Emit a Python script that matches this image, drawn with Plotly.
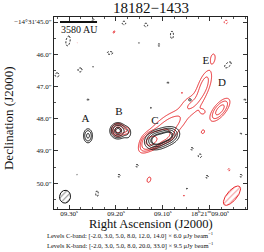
import numpy as np
import plotly.graph_objects as go

# ---------------- data ----------------
TITLE = "18182\u22121433"
C_LEVELS = [-2.0, 3.0, 5.0, 8.0, 12.0, 14.0]
K_LEVELS = [-2.0, 3.0, 5.0, 8.0, 20.0, 33.0]

# source-model components: RA (s), Dec ("), peak (sigma), major ("), minor ("), angle (deg)
c_ra   = [9.2596, 9.1957, 9.1745, 9.1127, 9.0893, 9.1000, 9.0425, 9.1255, 9.0489, 9.2830]
c_dec  = [48.529, 48.375, 48.437, 48.653, 48.529, 48.591, 47.415, 47.663, 50.170, 49.737]
c_peak = [9.0, 16.0, 4.0, 16.0, 13.0, 6.0, 4.0, 3.4, 3.4, 3.3]
c_maj  = [0.146, 0.139, 0.155, 0.170, 0.150, 0.400, 0.050, 0.031, 0.031, 0.025]
c_min  = [0.093, 0.139, 0.093, 0.130, 0.115, 0.220, 0.050, 0.031, 0.031, 0.025]
c_pa   = [90, 0, 90, 20, 20, 20, 0, 0, 0, 0]

cn_ra   = [9.3021, 9.2766, 9.2489, 9.3255, 9.2596, 9.2489, 9.1830, 9.2128, 9.1362, 9.0808, 9.1085, 9.1510,
           8.9617, 9.0893, 8.9255, 9.1936, 9.2404, 9.1553, 9.0383, 9.0212, 9.0063, 8.9340, 8.9340]
cn_dec  = [45.588, 46.486, 46.393, 46.641, 47.415, 44.938, 45.031, 45.960, 45.093, 45.402, 45.712, 45.650,
           46.331, 46.889, 47.415, 49.768, 50.325, 49.458, 48.932, 49.149, 49.799, 49.768, 48.468]
cn_peak = [-2.8, -2.7, -2.2, -2.7, -2.4, -2.5, -2.6, -2.6, -2.6, -2.7, -2.4, -2.2,
           -2.8, -2.4, -2.4, -2.5, -2.6, -2.5, -2.5, -2.6, -2.5, -2.5, -2.3]
cn_maj  = [0.186, 0.080, 0.030, 0.080, 0.045, 0.055, 0.075, 0.120, 0.075, 0.150, 0.060, 0.030,
           0.150, 0.045, 0.045, 0.060, 0.120, 0.060, 0.060, 0.075, 0.060, 0.060, 0.045]
cn_min  = [0.077, 0.080, 0.030, 0.080, 0.045, 0.055, 0.075, 0.060, 0.075, 0.060, 0.060, 0.030,
           0.075, 0.045, 0.045, 0.060, 0.055, 0.060, 0.060, 0.075, 0.060, 0.060, 0.045]
cn_pa   = [80, 0, 0, 0, 0, 0, 0, 0, 0, 90, 0, 0, 40, 0, 0, 0, 90, 0, 0, 0, 0, 0, 0]

k_ra   = [9.1957, 9.1766, 9.1255, 9.1000, 9.1106, 9.0745, 9.0425, 9.0127, 8.9936, 8.9787,
          9.0149, 9.0149, 9.1298, 9.0553, 9.2042, 9.0596, 8.9255, 9.3234, 9.1766, 9.2596, 9.2340, 9.2830,
          9.1362]
k_dec  = [48.344, 48.375, 48.684, 48.560, 48.437, 48.096, 47.570, 46.981, 46.115, 47.724,
          47.786, 48.406, 49.892, 50.387, 45.310, 47.198, 46.734, 49.551, 49.303, 50.759, 50.697, 45.650,
          48.839]
k_peak = [10.0, 4.0, 22.0, 8.0, 5.0, 4.8, 4.3, 6.5, 3.8, 10.0,
          3.6, 3.6, 3.8, 3.3, 3.4, 3.1, 3.1, 3.1, 3.1, 3.2, 3.2, 3.1,
          6.0]
k_maj  = [0.130, 0.090, 0.155, 0.217, 0.370, 0.320, 0.270, 0.400, 0.155, 0.280,
          0.077, 0.090, 0.124, 0.045, 0.077, 0.025, 0.025, 0.025, 0.025, 0.030, 0.030, 0.025,
          0.200]
k_min  = [0.130, 0.090, 0.124, 0.124, 0.217, 0.240, 0.210, 0.140, 0.077, 0.120,
          0.077, 0.070, 0.077, 0.030, 0.045, 0.025, 0.025, 0.025, 0.025, 0.030, 0.030, 0.025,
          0.120]
k_pa   = [0, 0, 30, 20, 45, 40, 55, 70, 80, 51, 0, 60, 70, 0, 60, 0, 0, 0, 0, 0, 0, 0, 45]

kn_ra   = [8.9659, 8.9595]
kn_dec  = [45.000, 49.582]
kn_peak = [-2.6, -2.4]
kn_maj  = [0.075, 0.055]
kn_min  = [0.075, 0.055]
kn_pa   = [0, 0]

# beams: RA, Dec, major ("), minor ("), angle (deg)
beam_c = [9.3085, 50.418, 0.40, 0.34, 80]
beam_k = [8.9530, 50.387, 0.74, 0.31, 50]

labels_txt = ["A", "B", "C", "D", "E"]
labels_ra  = [9.2649, 9.1936, 9.1170, 8.9744, 9.0085]
labels_dec = [48.019, 47.786, 48.065, 46.889, 46.207]

x_tickvals = [9.30, 9.20, 9.10, 9.00]
x_ticktext = ["09.30<sup>s</sup>", "09.20<sup>s</sup>", "09.10<sup>s</sup>",
              "18<sup>h</sup>21<sup>m</sup>09.00<sup>s</sup>"]
y_tickvals = [45, 46, 47, 48, 49, 50]
y_ticktext = ["\u221214\u00b031\u203245.0\u2033", "46.0\u2033", "47.0\u2033", "48.0\u2033",
              "49.0\u2033", "50.0\u2033"]

SCALE_TEXT = "3580 AU"
FOOT1 = "Levels C-band: [-2.0, 3.0, 5.0, 8.0, 12.0, 14.0] \u00d7 6.0 \u03bcJy beam<sup>\u22121</sup>"
FOOT2 = "Levels K-band: [-2.0, 3.0, 5.0, 8.0, 20.0, 33.0] \u00d7 9.5 \u03bcJy beam<sup>\u22121</sup>"

# ---------------- model maps ----------------
X_RANGE = [9.332, 8.921]
Y_RANGE = [50.80, 44.845]
K = 15.0 * np.cos(np.radians(14.525))  # arcsec per second of RA

ra = np.linspace(8.915, 9.338, 300)
dec = np.linspace(44.80, 50.85, 300)
RA, DEC = np.meshgrid(ra, dec)


def model(ras, decs, peaks, majs, mins, pas):
    z = np.zeros_like(RA)
    for r0, d0, p, a, b, t in zip(ras, decs, peaks, majs, mins, pas):
        du = (r0 - RA) * K
        dw = -(DEC - d0)
        th = np.radians(t)
        aa = du * np.cos(th) + dw * np.sin(th)
        bb = -du * np.sin(th) + dw * np.cos(th)
        z += p * np.exp(-0.5 * (aa ** 2 / a ** 2 + bb ** 2 / b ** 2))
    return z


zc = model(c_ra + cn_ra, c_dec + cn_dec, c_peak + cn_peak, c_maj + cn_maj, c_min + cn_min, c_pa + cn_pa)
zk = model(k_ra + kn_ra, k_dec + kn_dec, k_peak + kn_peak, k_maj + kn_maj, k_min + kn_min, k_pa + kn_pa)
zc = zc.astype(np.float32)
zk = zk.astype(np.float32)

BLACK = "#111111"
RED = "#e8262a"

fig = go.Figure()


def add_levels(z, levels, color):
    for lv in levels:
        fig.add_trace(go.Contour(
            x=ra, y=dec, z=z, showscale=False, hoverinfo="skip",
            contours=dict(start=lv, end=lv, size=1, coloring="none"),
            line=dict(color=color, width=1.0, dash="2px,1.5px" if lv < 0 else "solid", smoothing=1),
        ))


add_levels(zk, K_LEVELS, RED)
add_levels(zc, C_LEVELS, BLACK)


def beam_trace(b, color):
    r0, d0, a, bb, t = b
    s = np.linspace(0, 2 * np.pi, 80)
    th = np.radians(t)
    u = a / 2 * np.cos(s) * np.cos(th) - bb / 2 * np.sin(s) * np.sin(th)
    w = a / 2 * np.cos(s) * np.sin(th) + bb / 2 * np.sin(s) * np.cos(th)
    return go.Scatter(x=r0 - u / K, y=d0 - w, mode="lines", fill="toself",
                      line=dict(color=color, width=1), fillcolor="rgba(0,0,0,0)",
                      fillpattern=dict(shape="/", fgcolor=color, bgcolor="rgba(0,0,0,0)",
                                       size=4, solidity=0.25),
                      hoverinfo="skip", showlegend=False)


fig.add_trace(beam_trace(beam_c, BLACK))
fig.add_trace(beam_trace(beam_k, RED))

SERIF = "Liberation Serif, DejaVu Serif, serif"

fig.add_trace(go.Scatter(x=labels_ra, y=labels_dec, mode="text", text=labels_txt,
                         textfont=dict(family=SERIF, size=11, color="#111111"),
                         hoverinfo="skip", showlegend=False))

fig.update_layout(
    width=264, height=252,
    margin=dict(l=54, r=17, t=17, b=43),
    paper_bgcolor="white", plot_bgcolor="white",
    showlegend=False,
    font=dict(family=SERIF, color="#111111"),
    xaxis=dict(range=X_RANGE, tickvals=x_tickvals, ticktext=x_ticktext,
               ticks="inside", ticklen=4, tickcolor="#333", showgrid=False, zeroline=False,
               showline=True, linecolor="#222", linewidth=1, mirror="allticks",
               tickfont=dict(family=SERIF, size=7), ticklabelstandoff=-2,
               minor=dict(ticks="inside", ticklen=2, dtick=0.025, tick0=9.0, tickcolor="#555", showgrid=False)),
    yaxis=dict(range=Y_RANGE, tickvals=y_tickvals, ticktext=y_ticktext,
               ticks="inside", ticklen=4, tickcolor="#333", showgrid=False, zeroline=False,
               showline=True, linecolor="#222", linewidth=1, mirror="allticks",
               tickfont=dict(family=SERIF, size=7),
               minor=dict(ticks="inside", ticklen=2, dtick=0.5, tick0=45, tickcolor="#555", showgrid=False)),
    shapes=[dict(type="line", xref="paper", yref="paper", x0=0.031, x1=0.223, y0=0.974, y1=0.974,
                 line=dict(color="#111111", width=2))],
    annotations=[
        dict(text=TITLE, xref="paper", yref="paper", x=0.503, y=1.047, showarrow=False,
             font=dict(family=SERIF, size=15), xanchor="center", yanchor="middle"),
        dict(text=SCALE_TEXT, xref="paper", yref="paper", x=0.13, y=0.9375, showarrow=False,
             font=dict(family=SERIF, size=10), xanchor="center", yanchor="middle"),
        dict(text="Right Ascension (J2000)", xref="paper", yref="paper", x=0.503, y=-0.079,
             showarrow=False, font=dict(family=SERIF, size=12.5), xanchor="center", yanchor="middle"),
        dict(text="Declination (J2000)", xref="paper", yref="paper", x=-0.233, y=0.474, textangle=-90,
             showarrow=False, font=dict(family=SERIF, size=13), xanchor="center", yanchor="middle"),
        dict(text=FOOT1, xref="paper", yref="paper", x=0.394, y=-0.139, showarrow=False,
             font=dict(family=SERIF, size=6.5), xanchor="center", yanchor="middle"),
        dict(text=FOOT2, xref="paper", yref="paper", x=0.394, y=-0.190, showarrow=False,
             font=dict(family=SERIF, size=6.5), xanchor="center", yanchor="middle"),
    ],
)

fig.write_html("out.html", config={"displayModeBar": False},
               post_script="document.body.style.margin='0px';document.body.style.overflow='hidden';")
